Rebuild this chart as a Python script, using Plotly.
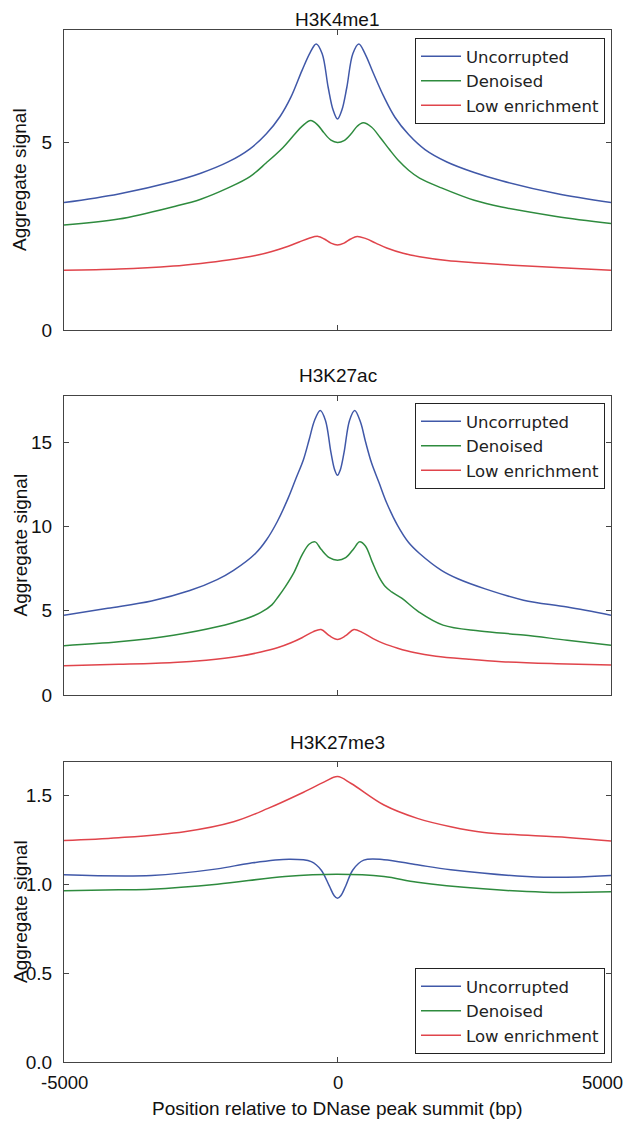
import plotly.graph_objects as go

# The page adds an 8px body margin, so the figure is drawn smaller and all
# reference pixel positions are shifted by that offset.
OFF = 8
W, H = 633 - OFF, 1123 - OFF

# ---------------- data ----------------
titles = ["H3K4me1", "H3K27ac", "H3K27me3"]
series_names = ["Uncorrupted", "Denoised", "Low enrichment"]
x_ticks = [-5000, 0, 5000]
x_ticklabels = ["-5000", "0", "5000"]

# Panel 1: H3K4me1
p1_unc_x = [-5000, -4000, -3000, -2500, -2000, -1600, -1300, -1050, -850, -650, -500, -390, -280, -170, -80, 0,
            80, 170, 280, 390, 500, 650, 850, 1050, 1300, 1600, 2000, 2500, 3000, 4000, 5000]
p1_unc_y = [3.39, 3.62, 3.95, 4.17, 4.47, 4.82, 5.22, 5.68, 6.20, 6.90, 7.38, 7.61, 7.35, 6.45, 5.85, 5.61,
            5.85, 6.45, 7.35, 7.61, 7.36, 6.85, 6.20, 5.66, 5.20, 4.80, 4.47, 4.19, 3.97, 3.63, 3.39]
p1_den_x = [-5000, -4000, -3000, -2500, -2000, -1600, -1300, -1000, -800, -640, -490, -360, -250, -120, 0,
            120, 250, 360, 470, 620, 780, 950, 1120, 1300, 1500, 1900, 2500, 3000, 4000, 5000]
p1_den_y = [2.79, 2.95, 3.28, 3.48, 3.78, 4.08, 4.45, 4.85, 5.18, 5.43, 5.57, 5.45, 5.25, 5.05, 4.99,
            5.04, 5.22, 5.42, 5.51, 5.40, 5.12, 4.80, 4.50, 4.25, 4.04, 3.78, 3.45, 3.27, 3.02, 2.83]
p1_low_x = [-5000, -4000, -3000, -2500, -2000, -1500, -1200, -900, -700, -520, -355, -240, -120, 0,
            120, 240, 360, 520, 700, 900, 1200, 1500, 2000, 2500, 3000, 4000, 5000]
p1_low_y = [1.59, 1.62, 1.70, 1.77, 1.86, 1.98, 2.09, 2.23, 2.34, 2.44, 2.49, 2.42, 2.31, 2.26,
            2.31, 2.42, 2.49, 2.43, 2.31, 2.18, 2.04, 1.95, 1.85, 1.79, 1.74, 1.66, 1.59]

# Panel 2: H3K27ac
p2_unc_x = [-5000, -4200, -3400, -2700, -2200, -1900, -1500, -1300, -1100, -900, -760, -620, -515, -420, -315, -220, -120, -50, 0,
            50, 120, 220, 315, 420, 515, 620, 760, 900, 1100, 1300, 1500, 1900, 2200, 2700, 3400, 4200, 5000]
p2_unc_y = [4.74, 5.15, 5.58, 6.20, 6.85, 7.40, 8.40, 9.20, 10.30, 11.70, 12.85, 14.00, 15.20, 16.30, 16.89, 16.30, 14.40, 13.35, 13.04,
            13.35, 14.40, 16.30, 16.89, 16.20, 15.00, 13.80, 12.60, 11.40, 10.05, 9.05, 8.40, 7.40, 6.90, 6.30, 5.63, 5.22, 4.74]
p2_den_x = [-5000, -4000, -3000, -2200, -1700, -1400, -1200, -1080, -950, -800, -650, -520, -410, -300, -150, 0,
            150, 300, 400, 510, 634, 760, 878, 990, 1180, 1484, 1929, 2600, 3400, 4200, 5000]
p2_den_y = [2.93, 3.16, 3.55, 4.05, 4.50, 4.90, 5.35, 5.85, 6.45, 7.25, 8.30, 8.95, 9.09, 8.65, 8.15, 8.00,
            8.15, 8.70, 9.09, 8.85, 7.90, 7.00, 6.42, 6.12, 5.73, 4.94, 4.15, 3.80, 3.56, 3.25, 2.96]
p2_low_x = [-5000, -4000, -3000, -2400, -1800, -1400, -1100, -850, -650, -450, -300, -150, 0,
            150, 300, 450, 650, 850, 1100, 1400, 1800, 2400, 3000, 4000, 5000]
p2_low_y = [1.74, 1.82, 1.93, 2.07, 2.30, 2.55, 2.80, 3.10, 3.40, 3.75, 3.89, 3.52, 3.30,
            3.52, 3.89, 3.72, 3.35, 3.05, 2.78, 2.52, 2.30, 2.12, 1.98, 1.86, 1.78]

# Panel 3: H3K27me3
p3_unc_x = [-5000, -3400, -2200, -1600, -880, -480, -300, -150, -60, 0, 60, 150, 280, 480, 850, 1460, 2070, 3770, 5000]
p3_unc_y = [1.053, 1.049, 1.086, 1.118, 1.140, 1.127, 1.080, 0.990, 0.935, 0.921, 0.935, 0.990, 1.080, 1.135, 1.138, 1.109, 1.081, 1.039, 1.049]
p3_den_x = [-5000, -4000, -3400, -2200, -960, 0, 850, 1460, 2660, 3770, 5000]
p3_den_y = [0.963, 0.968, 0.972, 1.000, 1.043, 1.056, 1.043, 1.011, 0.974, 0.955, 0.957]
p3_low_x = [-5000, -4000, -2800, -1900, -1270, -670, -240, 0, 250, 850, 1460, 2070, 2680, 4200, 5000]
p3_low_y = [1.245, 1.261, 1.295, 1.351, 1.426, 1.510, 1.575, 1.605, 1.566, 1.445, 1.370, 1.323, 1.291, 1.263, 1.243]

y_ranges = [[0, 7.98], [0, 17.75], [0, 1.687]]
y_tickvals = [[0, 5], [0, 5, 10, 15], [0, 0.5, 1.0, 1.5]]
y_ticktext = [["0", "5"], ["0", "5", "10", "15"], ["0.0", "0.5", "1.0", "1.5"]]

colors = ["#4058a8", "#2e8b3e", "#e0444b"]

# ---------------- layout geometry (reference pixels) ----------------
x_left, x_right = 64, 611
panel_px = [(30, 330), (396, 695), (762, 1062)]
title_px = [20, 375, 742]
ylabel_x = 20
xlabel_y = 1108
xtick_label_y = 1082

FONT = "Liberation Sans, Arial, sans-serif"


def px(x):
    return (x - OFF) / W


def py(y):
    return (H - (y - OFF)) / H


fig = go.Figure()

panels = [
    [(p1_unc_x, p1_unc_y), (p1_den_x, p1_den_y), (p1_low_x, p1_low_y)],
    [(p2_unc_x, p2_unc_y), (p2_den_x, p2_den_y), (p2_low_x, p2_low_y)],
    [(p3_unc_x, p3_unc_y), (p3_den_x, p3_den_y), (p3_low_x, p3_low_y)],
]
legend_ids = ["legend", "legend2", "legend3"]

for pi, panel in enumerate(panels):
    xa = "x" if pi == 0 else f"x{pi+1}"
    ya = "y" if pi == 0 else f"y{pi+1}"
    for si, (xs, ys) in enumerate(panel):
        fig.add_trace(go.Scatter(
            x=xs, y=ys, mode="lines", name=series_names[si],
            line=dict(color=colors[si], width=1.5, shape="spline", smoothing=1.0),
            xaxis=xa, yaxis=ya, legend=legend_ids[pi], showlegend=True,
        ))

axis_common = dict(
    showline=True, linecolor="#444444", linewidth=1, mirror="ticks",
    ticks="inside", ticklen=5, tickcolor="#444444", tickwidth=1,
    showgrid=False, zeroline=False, automargin=False, ticklabeloverflow="allow",
    tickfont=dict(family=FONT, size=19, color="#111111"),
)

layout = dict(
    width=W, height=H,
    margin=dict(l=0, r=0, t=0, b=0, autoexpand=False),
    paper_bgcolor="white", plot_bgcolor="white",
    showlegend=True,
)

for pi in range(3):
    top, bot = panel_px[pi]
    xkey = "xaxis" if pi == 0 else f"xaxis{pi+1}"
    ykey = "yaxis" if pi == 0 else f"yaxis{pi+1}"
    ya = "y" if pi == 0 else f"y{pi+1}"
    xa = "x" if pi == 0 else f"x{pi+1}"
    layout[xkey] = dict(
        axis_common, domain=[px(x_left), px(x_right)], range=[-5000, 5000],
        tickvals=x_ticks, ticktext=x_ticklabels, showticklabels=False,
        anchor=ya,
    )
    layout[ykey] = dict(
        axis_common, domain=[py(bot), py(top)], range=y_ranges[pi],
        tickvals=y_tickvals[pi], ticktext=y_ticktext[pi],
        anchor=xa, ticklabelstandoff=7,
    )

legend_common = dict(
    bgcolor="white", bordercolor="#222222", borderwidth=1,
    font=dict(family="DejaVu Sans", size=16.5, color="#222222"),
    xanchor="right", x=px(605), traceorder="normal", itemwidth=40,
)
layout["legend"] = dict(legend_common, yanchor="top", y=py(38))
layout["legend2"] = dict(legend_common, yanchor="top", y=py(403))
layout["legend3"] = dict(legend_common, yanchor="bottom", y=py(1054))

fig.update_layout(**layout)

annotations = []
for pi in range(3):
    annotations.append(dict(
        text=titles[pi], x=px((x_left + x_right) / 2), y=py(title_px[pi]),
        xref="paper", yref="paper", showarrow=False, xanchor="center", yanchor="middle",
        font=dict(family=FONT, size=19, color="#111111"),
    ))
    top, bot = panel_px[pi]
    annotations.append(dict(
        text="Aggregate signal", x=px(ylabel_x), y=py((top + bot) / 2),
        xref="paper", yref="paper", showarrow=False, textangle=-90,
        xanchor="center", yanchor="middle",
        font=dict(family=FONT, size=19, color="#111111"),
    ))

# bottom x tick labels (placed on the data axis; the last one is kept inside the page)
for val, lab in zip(x_ticks, x_ticklabels):
    anchor = "right" if val == x_ticks[-1] else "center"
    ann = dict(
        text=lab, x=val, xref="x3", y=py(xtick_label_y), yref="paper",
        showarrow=False, xanchor=anchor, yanchor="middle",
        font=dict(family=FONT, size=18.5, color="#111111"),
    )
    if anchor == "right":
        ann["xshift"] = (625 - x_right)
    annotations.append(ann)

annotations.append(dict(
    text="Position relative to DNase peak summit (bp)", x=px((x_left + x_right) / 2), y=py(xlabel_y),
    xref="paper", yref="paper", showarrow=False, xanchor="center", yanchor="middle",
    font=dict(family=FONT, size=19, color="#111111"),
))
fig.update_layout(annotations=annotations)

fig.write_html("out.html")
